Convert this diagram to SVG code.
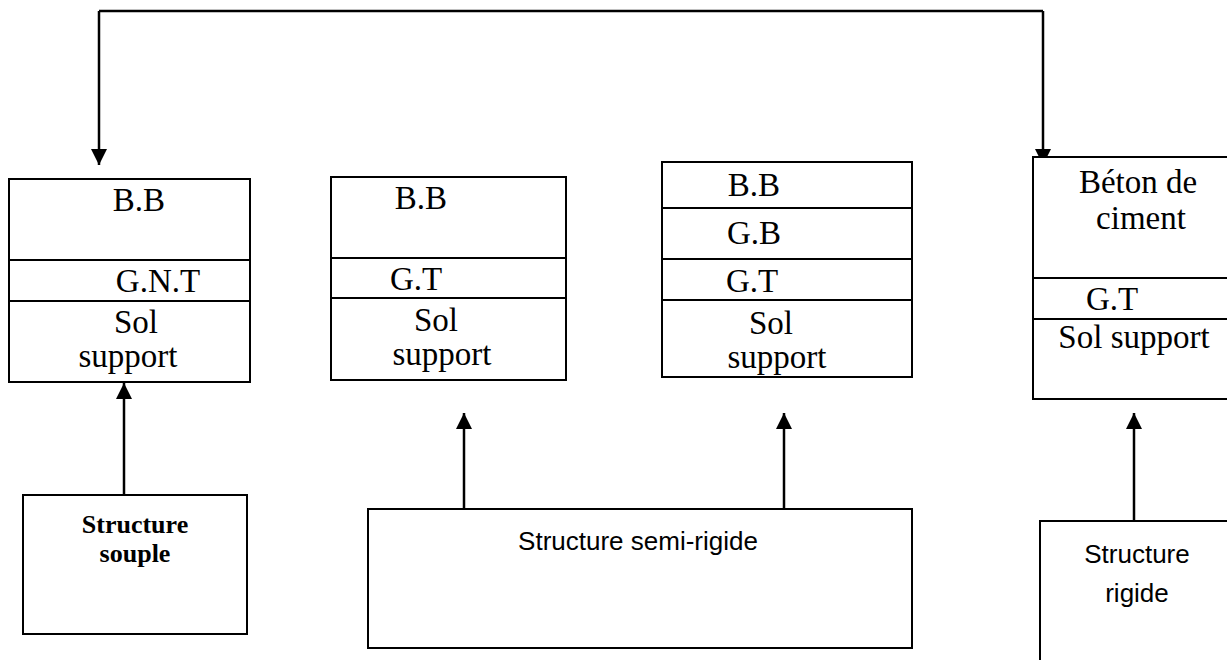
<svg xmlns="http://www.w3.org/2000/svg" width="1227" height="660" viewBox="0 0 1227 660">
<style>
.box{fill:#fff;stroke:#000;stroke-width:2}
.div{stroke:#000;stroke-width:2}
.t{font-family:"Liberation Serif","Times New Roman",serif;font-size:33px;fill:#000;text-anchor:middle}
.tb{font-family:"Liberation Serif","Times New Roman",serif;font-size:26px;font-weight:bold;fill:#000;text-anchor:middle}
.s{font-family:"Liberation Sans",Arial,sans-serif;font-size:26px;fill:#000;text-anchor:middle}
.c{fill:none;stroke:#000;stroke-width:2.5}
</style>
<defs>
<marker id="ah" viewBox="0 0 16 16" refX="16" refY="8" markerWidth="16" markerHeight="16" markerUnits="userSpaceOnUse" orient="auto">
<path d="M0,0 L16,8 L0,16 Z" fill="#000"/>
</marker>
</defs>
<g id="connectors">
<path class="c" d="M99,11 H1043"/>
<path class="c" d="M99,11 V165" marker-end="url(#ah)"/>
<path class="c" d="M1043,11 V165" marker-end="url(#ah)"/>
<path class="c" d="M124,495 V383" marker-end="url(#ah)"/>
<path class="c" d="M464,509 V413" marker-end="url(#ah)"/>
<path class="c" d="M784,509 V413" marker-end="url(#ah)"/>
<path class="c" d="M1134,521 V413" marker-end="url(#ah)"/>
</g>
<g id="souple-layers">
<rect class="box" x="9" y="179" width="241" height="203"/>
<line class="div" x1="9" y1="260" x2="250" y2="260"/>
<line class="div" x1="9" y1="301" x2="250" y2="301"/>
<text class="t" x="139" y="211">B.B</text>
<text class="t" x="158" y="292">G.N.T</text>
<text class="t" x="136" y="333">Sol</text>
<text class="t" x="128" y="367">support</text>
</g>
<g id="semi-layers-1">
<rect class="box" x="331" y="177" width="235" height="203"/>
<line class="div" x1="331" y1="258" x2="566" y2="258"/>
<line class="div" x1="331" y1="298" x2="566" y2="298"/>
<text class="t" x="421" y="209">B.B</text>
<text class="t" x="416" y="290">G.T</text>
<text class="t" x="436" y="331">Sol</text>
<text class="t" x="442" y="365">support</text>
</g>
<g id="semi-layers-2">
<rect class="box" x="662" y="162" width="250" height="215"/>
<line class="div" x1="662" y1="208" x2="912" y2="208"/>
<line class="div" x1="662" y1="259" x2="912" y2="259"/>
<line class="div" x1="662" y1="300" x2="912" y2="300"/>
<text class="t" x="754" y="196">B.B</text>
<text class="t" x="754" y="244">G.B</text>
<text class="t" x="752" y="292">G.T</text>
<text class="t" x="771" y="334">Sol</text>
<text class="t" x="777" y="368">support</text>
</g>
<g id="rigid-layers">
<rect class="box" x="1033" y="157" width="210" height="242"/>
<line class="div" x1="1033" y1="278" x2="1227" y2="278"/>
<line class="div" x1="1033" y1="319" x2="1227" y2="319"/>
<text class="t" x="1138" y="193">Béton de</text>
<text class="t" x="1141" y="229">ciment</text>
<text class="t" x="1112" y="310">G.T</text>
<text class="t" x="1134" y="348">Sol support</text>
</g>
<g id="structure-souple">
<rect class="box" x="23" y="495" width="224" height="139"/>
<text class="tb" x="135" y="533">Structure</text>
<text class="tb" x="135" y="562">souple</text>
</g>
<g id="structure-semi-rigide">
<rect class="box" x="368" y="509" width="544" height="139"/>
<text class="s" x="638" y="550">Structure semi-rigide</text>
</g>
<g id="structure-rigide">
<rect class="box" x="1040" y="521" width="200" height="150"/>
<text class="s" x="1137" y="563">Structure</text>
<text class="s" x="1137" y="602">rigide</text>
</g>
</svg>
